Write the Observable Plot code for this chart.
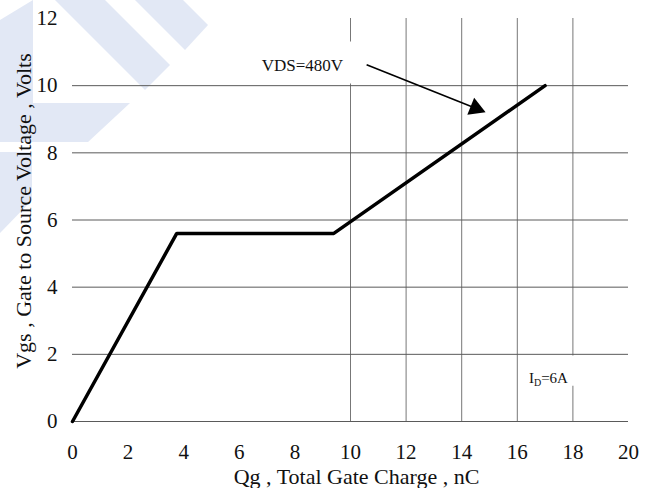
<!DOCTYPE html>
<html><head><meta charset="utf-8">
<script src="https://cdn.jsdelivr.net/npm/d3@7"></script>
<script src="https://cdn.jsdelivr.net/npm/@observablehq/plot@0.6"></script>
<style>
body{margin:0;background:#fff;}
#wrap{position:relative;width:648px;height:488px;}
#wm{position:absolute;left:0;top:0;}
#chart{position:absolute;left:0;top:0;}
#chart svg, #chart svg text{font-family:"Liberation Serif","Times New Roman",serif !important;}
</style>
</head><body>
<div id="wrap">
<svg id="wm" width="648" height="488">
  <g fill="#e2e8f5">
    <polygon points="55,0 105,0 170,65 145,90"/>
    <polygon points="135,0 183,0 208,25 185,50"/>
    <polygon points="0,20 33,0 33,103 130,103 88,142 0,142"/>
    <polygon points="0,152 32,152 32,200 0,233"/>
  </g>
</svg>
<div id="chart"></div>
</div>
<script>
// Gate charge curve
const qg  = [0, 3.75, 9.4, 17.0];
const vgs = [0, 5.6, 5.6, 10.0];

// ticks and grid
const xTicks = [0, 2, 4, 6, 8, 10, 12, 14, 16, 18, 20];
const yTicks = [0, 2, 4, 6, 8, 10, 12];
const hGrid = [0, 2, 4, 6, 8, 10];
const vGrid = [10, 12, 14, 16, 18];

// annotations
const vdsLabel = ["VDS=480V"];
const vdsPos = [8.27, 10.59];
const arrowFrom = [10.58, 10.62];
const arrowTo = [14.86, 9.21];
const idLabel = ["ID=6A"];
const idPos = [17.12, 1.3];
const vdsBox = [6.6, 10.1, 10.05, 11.3];
const idBox = [16.1, 18.1, 1.05, 1.95];

const xLabel = "Qg , Total Gate Charge , nC";
const yLabel = "Vgs , Gate to Source Voltage , Volts";

const W = 648, H = 488, mL = 72, mR = 20, mT = 18, mB = 67;
const xDom = [0, 20], yDom = [0, 12];
const kx = (W - mL - mR) / (xDom[1] - xDom[0]);
const ky = (H - mT - mB) / (yDom[1] - yDom[0]);

// arrow head geometry (filled triangle)
const dxp = (arrowTo[0] - arrowFrom[0]) * kx;
const dyp = -(arrowTo[1] - arrowFrom[1]) * ky;
const len = Math.hypot(dxp, dyp);
const ux = dxp / len, uy = dyp / len;
const headH = 16;
const yy = headH / 3;
const size = yy * yy * 3 * Math.sqrt(3);
const rHead = Math.sqrt(size / Math.PI);
const back = 2 * yy;
const headCenter = [arrowTo[0] - back * ux / kx, arrowTo[1] + back * uy / ky];
const headRot = Math.atan2(ux, -uy) * 180 / Math.PI;

const curve = qg.map((q, i) => ({q, v: vgs[i]}));
const font = "'Liberation Serif', 'Times New Roman', serif";

const plot = Plot.plot({
  width: W, height: H,
  marginLeft: mL, marginRight: mR, marginTop: mT, marginBottom: mB,
  style: {background: "transparent", fontFamily: font, fontSize: "21px", color: "#111", overflow: "visible"},
  x: {domain: xDom, ticks: xTicks},
  y: {domain: yDom, ticks: yTicks},
  marks: [
    Plot.ruleX(vGrid, {y1: 0, y2: 12, stroke: "#777", strokeWidth: 1}),
    Plot.rect([vdsBox], {x1: d => d[0], x2: d => d[1], y1: d => d[2], y2: d => d[3], fill: "white"}),
    Plot.rect([idBox], {x1: d => d[0], x2: d => d[1], y1: d => d[2], y2: d => d[3], fill: "white"}),
    Plot.ruleY(hGrid, {x1: 0, x2: 20, stroke: "#5a5a5a", strokeWidth: 1}),
    Plot.axisX({ticks: xTicks, tickSize: 0, tickPadding: 23, label: null, fontSize: 21, fontFamily: font, fill: "#111"}),
    Plot.axisY({ticks: yTicks, tickSize: 0, tickPadding: 15, label: null, fontSize: 21, fontFamily: font, fill: "#111"}),
    Plot.line(curve, {x: "q", y: "v", stroke: "black", strokeWidth: 3.5, strokeLinejoin: "miter"}),
    Plot.link([0], {x1: arrowFrom[0], y1: arrowFrom[1], x2: headCenter[0], y2: headCenter[1], stroke: "black", strokeWidth: 1.6}),
    Plot.dot([0], {x: headCenter[0], y: headCenter[1], symbol: "triangle", r: rHead, fill: "black", stroke: "none", rotate: headRot}),
    Plot.text(vdsLabel, {x: vdsPos[0], y: vdsPos[1], text: d => d, fontSize: 17, fontFamily: font, fill: "#111"}),
    Plot.text(idLabel, {x: idPos[0], y: idPos[1], text: d => d, fontSize: 15, fontFamily: font, fill: "#111"}),
    Plot.text([xLabel], {frameAnchor: "bottom", text: d => d, dy: 55, dx: 6, textAnchor: "middle", lineAnchor: "middle", fontSize: 22, fontFamily: font, fill: "#111"}),
    Plot.text([yLabel], {frameAnchor: "left", text: d => d, rotate: -90, dx: -49, dy: -9, textAnchor: "middle", lineAnchor: "middle", fontSize: 22, fontFamily: font, fill: "#111"})
  ]
});

// subscript for I_D
plot.querySelectorAll("text").forEach(t => {
  if (t.textContent === "ID=6A") {
    t.textContent = "";
    const ns = "http://www.w3.org/2000/svg";
    const a = document.createElementNS(ns, "tspan"); a.textContent = "I";
    const b = document.createElementNS(ns, "tspan"); b.textContent = "D"; b.setAttribute("font-size", "10"); b.setAttribute("dy", "3");
    const c = document.createElementNS(ns, "tspan"); c.textContent = "=6A"; c.setAttribute("dy", "-3");
    t.append(a, b, c);
  }
});

document.getElementById("chart").append(plot);
</script>
</body></html>
